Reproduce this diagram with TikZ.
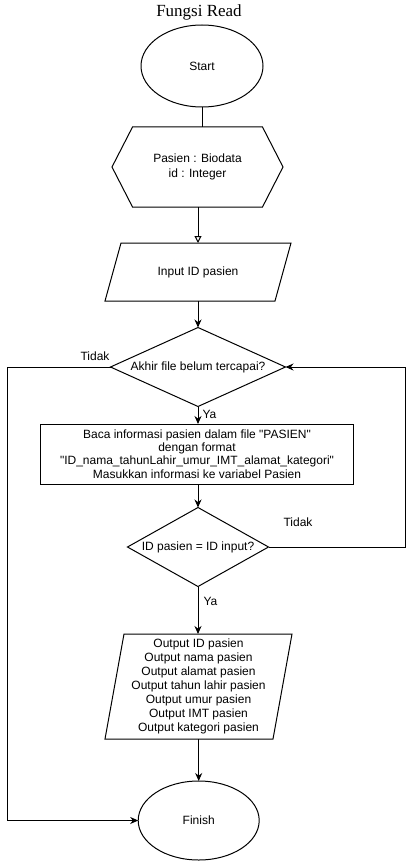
\documentclass[tikz,border=0pt]{standalone}
\usepackage{fontspec}
\setmainfont{Liberation Sans}[Ligatures=TeXOff]
\newfontfamily\titlefont{Liberation Serif}
\usetikzlibrary{shapes.geometric,arrows.meta,calc}
\newcommand{\us}{\string_}
\begin{document}
\begin{tikzpicture}[x=1pt,y=-1pt, font=\fontsize{12}{14}\selectfont, line width=1pt,
 ghost/.style={rectangle, inner sep=0pt, outer sep=0pt, align=center},
 procbox/.style={draw, rectangle, inner sep=0pt, outer sep=0pt, align=center},
 term/.style={draw, ellipse, inner sep=0pt, outer sep=0pt},
 arr/.style={-{Stealth[length=8pt,width=7pt]}},
 openarr/.style={-{Triangle[open,length=7pt,width=7pt]}},
 lbl/.style={inner sep=0pt}]
\useasboundingbox (0,0) rectangle (414,861);
\node[font=\titlefont\fontsize{17}{20}\selectfont] (title) at (199,12) {Fungsi Read};
\node[term, minimum width=122pt, minimum height=82pt] (start) at (202,66) {Start};
\node[ghost, minimum width=171pt, minimum height=80pt] (hex) at (197.5,167) {Pasien : Biodata\\[1pt]id : Integer};
\draw (hex.west) -- ($(hex.north west)+(20.5,0)$) -- ($(hex.north east)+(-20.5,0)$) -- (hex.east) -- ($(hex.south east)+(-20.5,0)$) -- ($(hex.south west)+(20.5,0)$) -- cycle;
\node[ghost, minimum width=186pt, minimum height=58pt] (in1) at (198,272) {Input ID pasien};
\draw ($(in1.north west)+(16,0)$) -- (in1.north east) -- ($(in1.south east)+(-16,0)$) -- (in1.south west) -- cycle;
\node[ghost, minimum width=175pt, minimum height=79pt] (d1) at (198,367) {Akhir file belum tercapai?};
\draw (d1.north) -- (d1.east) -- (d1.south) -- (d1.west) -- cycle;
\node[procbox, minimum width=313pt, minimum height=60pt, font=\fontsize{12}{13.3}\selectfont] (r1) at (197,454) {Baca informasi pasien dalam file "PASIEN"\\dengan format\\"ID\us nama\us tahunLahir\us umur\us IMT\us alamat\us kategori"\\Masukkan informasi ke variabel Pasien};
\node[ghost, minimum width=141pt, minimum height=79pt] (d2) at (198,547) {ID pasien = ID input?};
\draw (d2.north) -- (d2.east) -- (d2.south) -- (d2.west) -- cycle;
\node[ghost, minimum width=187pt, minimum height=105pt] (out1) at (198.5,686.5) {Output ID pasien\\Output nama pasien\\Output alamat pasien\\Output tahun lahir pasien\\Output umur pasien\\Output IMT pasien\\Output kategori pasien};
\draw ($(out1.north west)+(19,0)$) -- (out1.north east) -- ($(out1.south east)+(-19,0)$) -- (out1.south west) -- cycle;
\node[term, minimum width=121pt, minimum height=79pt] (finish) at (198.7,820.5) {Finish};
\coordinate (leftx) at (7.5,0);
\coordinate (rightx) at (405.5,0);
\draw (start.south) -- (start.south |- hex.north);
\draw[openarr] (in1.north |- hex.south) -- (in1.north);
\draw[arr] (in1.south) -- (d1.north);
\draw[arr] (d1.south) -- (d1.south |- r1.north);
\draw[arr] (d2.north |- r1.south) -- (d2.north);
\draw[arr] (d2.south) -- (d2.south |- out1.north);
\draw[arr] (finish.north |- out1.south) -- (finish.north);
\draw[arr] (d1.west) -- (d1.west -| leftx) -- (leftx |- finish.west) -- (finish.west);
\draw[arr] (d2.east) -- (d2.east -| rightx) -- (rightx |- d1.east) -- (d1.east);
\node[lbl] (t1) at (95,356) {Tidak};
\node[lbl, anchor=west] (y1) at (202,414) {Ya};
\node[lbl] (t2) at (298,522) {Tidak};
\node[lbl, anchor=west] (y2) at (203,601) {Ya};
\end{tikzpicture}
\end{document}
